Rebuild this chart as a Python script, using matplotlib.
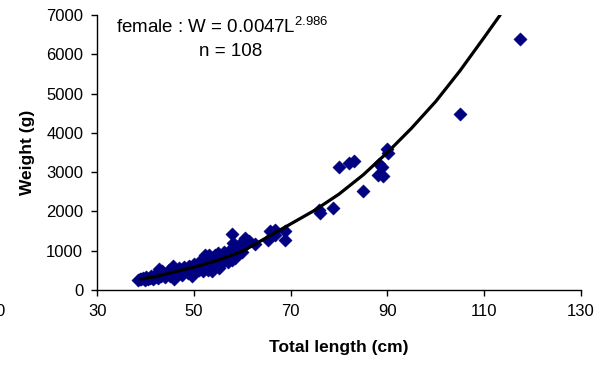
import matplotlib
matplotlib.use("Agg")
import matplotlib.pyplot as plt

plt.rcParams['font.family'] = ['Liberation Sans', 'DejaVu Sans']
plt.rcParams['mathtext.fontset'] = 'custom'
plt.rcParams['mathtext.rm'] = 'Liberation Sans'
plt.rcParams['mathtext.it'] = 'Liberation Sans'

# Observed data (total length in cm, weight in g)
length_cm = [
    38.5, 38.8, 39.0, 39.5, 40.0, 40.2, 40.5, 41.0, 41.2, 41.5,
    42.0, 42.0, 42.5, 42.7, 43.0, 43.2, 43.5, 44.0, 44.0, 44.5,
    44.8, 45.0, 45.3, 45.6, 45.8, 46.0, 46.2, 46.5, 47.0, 47.0,
    47.5, 47.5, 48.0, 48.0, 48.5, 48.8, 49.0, 49.3, 49.6, 50.0,
    50.0, 50.3, 50.6, 51.0, 51.0, 51.5, 51.8, 52.0, 52.2, 52.5,
    52.8, 53.0, 53.2, 53.5, 53.7, 54.0, 54.0, 54.4, 54.5, 55.0,
    55.0, 55.2, 55.5, 55.8, 56.0, 56.2, 56.5, 56.8, 57.0, 57.2,
    57.5, 57.8, 58.0, 58.3, 58.5, 58.7, 59.0, 59.3, 59.5, 60.0,
    57.8, 58.0, 60.6, 61.3, 62.6, 65.7, 66.8, 65.4, 66.8, 68.8,
    68.8, 59.9, 61.0,
    76.0, 75.8, 78.8, 80.1, 82.1, 83.1, 85.0, 88.3, 88.8, 88.1,
    89.0, 90.0, 90.2, 105.0, 117.5,
]
weight_g = [
    250, 290, 270, 300, 260, 320, 290, 310, 350, 280,
    330, 380, 300, 540, 420, 350, 470, 380, 320, 420,
    500, 360, 450, 600, 270, 520, 400, 480, 440, 560,
    500, 380, 460, 580, 520, 420, 600, 480, 360, 540,
    650, 450, 600, 520, 700, 620, 480, 560, 880, 640,
    760, 520, 900, 700, 480, 800, 620, 900, 700, 760,
    940, 560, 650, 860, 720, 960, 800, 900, 700, 1000,
    850, 760, 950, 1100, 820, 1050, 900, 1150, 1000, 1080,
    1430, 1200, 1310, 1250, 1180, 1500, 1520, 1280, 1400, 1500,
    1270, 970, 1230,
    1970, 2030, 2090, 3120, 3220, 3290, 2520, 3200, 3120, 2930,
    2900, 3600, 3490, 4480, 6400,
]

# Fitted curve as drawn
curve_L = [39, 42, 45, 50, 55, 60, 65, 70, 75, 80, 85, 90, 95, 100, 105, 110, 113.3]
curve_W = [280, 340, 430, 580, 760, 980, 1330, 1680, 2030, 2440, 2930, 3500, 4120, 4800, 5580, 6430, 7000]

x_ticks = [30, 50, 70, 90, 110, 130]
y_ticks = [0, 1000, 2000, 3000, 4000, 5000, 6000, 7000]

fig = plt.figure(figsize=(6.07, 3.67), dpi=100)
ax = fig.add_axes([0.160, 0.210, 0.797, 0.749])

ax.scatter(length_cm, weight_g, marker='D', s=46, color='#000080',
           edgecolors='#000080', linewidths=0.3, zorder=2)
ax.plot(curve_L, curve_W, color='black', lw=2.3, zorder=3,
        solid_capstyle='round')

ax.set_xlim(30, 130)
ax.set_ylim(0, 7000)
ax.set_xticks(x_ticks)
ax.set_yticks(y_ticks)
ax.tick_params(direction='out', length=4, width=1, labelsize=12,
               colors='black', pad=6)
for s in ['top', 'right']:
    ax.spines[s].set_visible(False)
for s in ['left', 'bottom']:
    ax.spines[s].set_linewidth(1.0)

ax.set_xlabel('Total length (cm)', fontsize=12.5, fontweight='bold', labelpad=15)
ax.set_ylabel('Weight (g)', fontsize=12.5, fontweight='bold', labelpad=8)

ax.text(34, 6700, r'female : W = 0.0047L$^{2.986}$', fontsize=13.5,
        ha='left', va='center')
ax.text(57.5, 6070, 'n = 108', fontsize=13.5, ha='center', va='center')

# clipped label from neighbouring chart at the left edge
fig.text(0.008, 1 - 312 / 367, '0', fontsize=12, ha='right', va='center')

fig.savefig('out.png', dpi=100)
